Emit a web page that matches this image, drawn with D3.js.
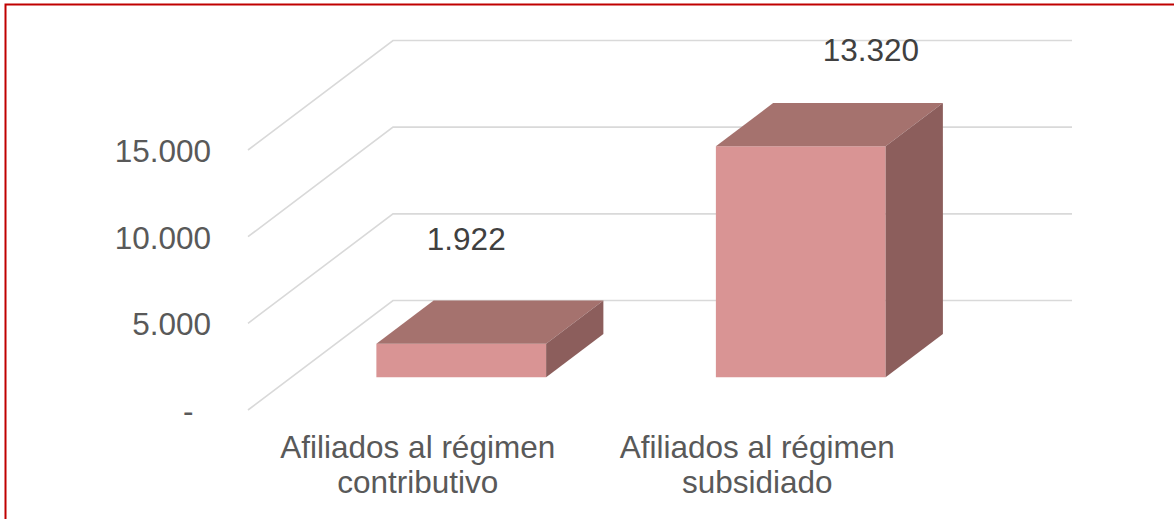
<!DOCTYPE html>
<meta charset="utf-8">
<style>

body {
  margin: 0;
  background: #fff;
  font-family: "Liberation Sans", Arial, sans-serif;
}

.grid path {
  fill: none;
  stroke: #d9d9d9;
  stroke-width: 1.6;
}

.tick-label {
  font-size: 31.5px;
  fill: #595959;
  white-space: pre;
}

.cat-label {
  font-size: 31.5px;
  fill: #595959;
}

.value-label {
  font-size: 31.5px;
  fill: #404040;
}

</style>
<body>
<svg width="1174" height="519"></svg>
</body>

<script src="https://d3js.org/d3.v7.min.js"></script>
<script>

var categories = [
  ["Afiliados al régimen", "contributivo"],
  ["Afiliados al régimen", "subsidiado"]
];
var values = [1922, 13320];
var yTicks = [0, 5000, 10000, 15000];

var svg = d3.select("svg");

// frame of the chart object
svg.append("rect")
    .attr("x", 5.5)
    .attr("y", 4.5)
    .attr("width", 1400)
    .attr("height", 700)
    .attr("fill", "none")
    .attr("stroke", "#c00000")
    .attr("stroke-width", 2);

var locale = d3.formatLocale({decimal: ",", thousands: ".", grouping: [3], currency: ["$", ""]});
var fmt = locale.format(",d");

// front floor plane, depth goes up and to the right
var x = d3.scaleBand()
    .domain(d3.range(values.length))
    .range([248, 927]);

var y = d3.scaleLinear()
    .domain([0, 15000])
    .range([410, 150]);

var depth = {dx: 145, dy: -109.5};

function proj(px, py, z) {
  return [px + z * depth.dx, py + z * depth.dy];
}

function poly(pts) {
  return "M" + pts.map(function(p) { return p.join(","); }).join("L") + "Z";
}

// floor diagonals + back wall lines
svg.append("g")
    .attr("class", "grid")
  .selectAll("path")
  .data(yTicks)
  .enter().append("path")
    .attr("d", function(d) {
      var a = proj(x.range()[0], y(d), 0),
          b = proj(x.range()[0], y(d), 1),
          c = proj(x.range()[1], y(d), 1);
      return "M" + a + "L" + b + "L" + c;
    });

// value axis labels
svg.append("g")
  .selectAll("text")
  .data(yTicks)
  .enter().append("text")
    .attr("class", "tick-label")
    .attr("text-anchor", "end")
    .attr("x", 211)
    .attr("y", function(d) { return y(d) + 12; })
    .text(function(d) { return d === 0 ? "-  " : fmt(d); });

// bars as boxes
var z0 = 0.30, z1 = 0.695;
var bw = x.bandwidth();

var bar = svg.append("g")
  .selectAll("g")
  .data(values)
  .enter().append("g");

bar.append("path")
    .attr("fill", "#d99494")
    .attr("d", function(d, i) {
      var x0 = x(i) + bw * 0.25, x1 = x(i) + bw * 0.75;
      return poly([proj(x0, y(d), z0), proj(x1, y(d), z0), proj(x1, y(0), z0), proj(x0, y(0), z0)]);
    });

bar.append("path")
    .attr("fill", "#a5726e")
    .attr("d", function(d, i) {
      var x0 = x(i) + bw * 0.25, x1 = x(i) + bw * 0.75;
      return poly([proj(x0, y(d), z0), proj(x1, y(d), z0), proj(x1, y(d), z1), proj(x0, y(d), z1)]);
    });

bar.append("path")
    .attr("fill", "#8c5e5c")
    .attr("d", function(d, i) {
      var x1 = x(i) + bw * 0.75;
      return poly([proj(x1, y(d), z0), proj(x1, y(d), z1), proj(x1, y(0), z1), proj(x1, y(0), z0)]);
    });

// data labels, sit above the box and lean with its height
bar.append("text")
    .attr("class", "value-label")
    .attr("text-anchor", "middle")
    .attr("x", function(d, i) {
      var h = y(0) - y(d);
      return proj(x(i) + bw / 2, y(d), z0)[0] + 0.33 * h - 6;
    })
    .attr("y", function(d) {
      var h = y(0) - y(d);
      return proj(0, y(d), z0)[1] - 95 + 0.044 * h;
    })
    .text(function(d) { return fmt(d); });

// category labels
var cat = svg.append("g")
  .selectAll("text")
  .data(categories)
  .enter().append("text")
    .attr("class", "cat-label")
    .attr("text-anchor", "middle")
    .attr("x", function(d, i) { return x(i) + bw / 2; })
    .attr("y", 458);

cat.selectAll("tspan")
  .data(function(d) { return d; })
  .enter().append("tspan")
    .attr("x", function() { return d3.select(this.parentNode).attr("x"); })
    .attr("dy", function(d, j) { return j ? 35 : 0; })
    .text(function(d) { return d; });

</script>
